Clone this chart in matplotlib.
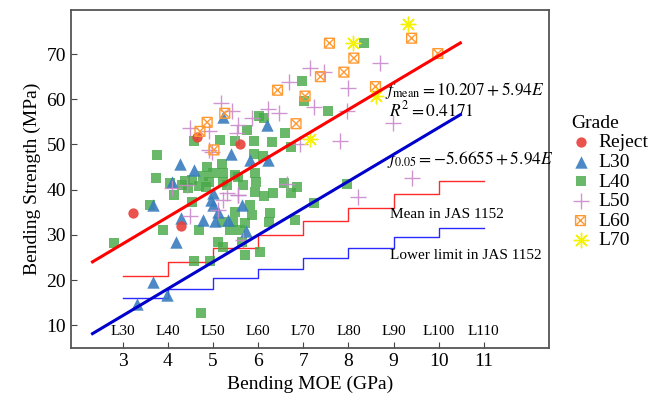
import numpy as np
import matplotlib.pyplot as plt
from matplotlib.path import Path

plt.rcParams['font.family'] = ['Liberation Serif', 'DejaVu Serif']
plt.rcParams['mathtext.fontset'] = 'stix'

# ----------------------------
# MOE (GPa) / bending strength (MPa) by grade
# ----------------------------
reject_moe = [3.23, 4.29, 4.64, 5.59]
reject_mor = [34.8, 32.0, 51.7, 50.1]

l30_moe = [3.31, 3.66, 3.98, 3.68, 4.09, 4.27, 4.29, 4.17, 4.58, 4.78, 4.95, 5.01,
           5.01, 5.12, 5.05, 5.22, 5.34, 5.40, 5.64, 5.73, 5.82, 6.20, 6.21]
l30_mor = [14.7, 19.6, 16.7, 36.6, 41.8, 45.6, 33.7, 28.5, 44.4, 33.3, 37.7, 39.3,
           36.6, 35.1, 33.0, 56.1, 33.3, 47.9, 36.6, 30.9, 46.5, 54.3, 46.5]

l40_moe = [2.81, 3.61, 3.73, 3.75, 3.89, 4.05, 4.14, 4.31, 4.38, 4.44, 4.53, 4.53,
           4.57, 4.57, 4.68, 4.68, 4.73, 4.77, 4.86, 4.90, 4.85, 4.94, 5.01, 5.12,
           5.16, 5.20, 5.20, 5.23, 5.23, 5.23, 5.31, 5.38, 5.45, 5.49, 5.49, 5.49,
           5.56, 5.60, 5.64, 5.67, 5.71, 5.71, 5.75, 5.82, 5.86, 5.90, 5.91, 5.93,
           5.93, 5.96, 6.01, 6.04, 6.10, 6.12, 6.14, 6.23, 6.27, 6.30, 6.34, 6.58,
           6.60, 6.73, 6.73, 6.82, 6.87, 6.97, 7.01, 7.23, 7.55, 7.97, 8.34]
l40_mor = [28.3, 36.6, 42.5, 47.7, 31.0, 41.4, 38.8, 41.0, 42.0, 40.3, 42.2, 37.3,
           24.3, 50.8, 40.8, 31.1, 12.8, 43.1, 45.1, 41.8, 40.5, 24.2, 43.6, 28.5,
           51.0, 45.7, 32.9, 43.6, 41.8, 27.4, 41.0, 31.1, 32.9, 50.8, 43.3, 35.1,
           42.9, 31.1, 28.5, 41.0, 25.6, 32.6, 53.1, 36.6, 34.4, 50.8, 48.0, 43.6,
           39.4, 41.6, 56.3, 26.3, 47.5, 38.5, 55.8, 32.9, 34.8, 50.6, 39.3, 41.5,
           52.6, 49.5, 39.2, 33.3, 40.7, 64.0, 59.6, 37.0, 57.5, 41.3, 72.5]

l50_moe = [4.10, 4.42, 4.49, 4.49, 4.90, 4.92, 4.97, 5.12, 5.18, 5.23, 5.31, 5.42,
           5.53, 5.55, 5.56, 5.56, 5.67, 5.86, 6.21, 6.47, 6.64, 6.69, 6.93, 7.15,
           7.23, 7.45, 7.82, 7.97, 7.99, 8.22, 8.69, 8.99, 9.41]
l50_mor = [40.3, 41.0, 53.7, 34.2, 53.0, 48.8, 48.4, 35.5, 59.2, 37.7, 39.2, 57.5,
           52.5, 54.2, 38.8, 38.8, 28.9, 55.8, 57.9, 56.9, 41.2, 63.8, 50.1, 67.0,
           58.2, 66.1, 50.8, 57.5, 62.5, 38.3, 68.0, 54.8, 42.5]

l60_moe = [4.71, 4.87, 5.02, 5.26, 6.43, 6.84, 7.04, 7.38, 7.58, 7.90, 8.12, 8.60,
           9.40, 9.98]
l60_mor = [52.9, 54.9, 48.8, 56.9, 62.0, 54.6, 60.7, 65.0, 72.4, 66.0, 69.1, 62.8,
           73.5, 70.1]

l70_moe = [7.14, 8.10, 8.62, 9.31]
l70_mor = [51.2, 72.5, 60.8, 76.7]

# regression lines
fit_moe = [2.33, 10.48]
mean_icpt, low_icpt, slope = 10.207, -5.6655, 5.94

# JAS 1152 grade boundaries and strengths
jas_moe = [3, 4, 5, 6, 7, 8, 9, 10, 11]
jas_mean = [21, 24, 27, 30, 33, 36, 39, 42]
jas_lower = [16, 18, 20.5, 22.5, 25, 27, 29.5, 31.5]
jas_grades = ['L30', 'L40', 'L50', 'L60', 'L70', 'L80', 'L90', 'L100', 'L110']

# boxed-x marker for L60
box_x = Path([(-1, -1), (1, -1), (1, 1), (-1, 1), (-1, -1),
              (-0.8, -0.8), (0.8, 0.8), (-0.8, 0.8), (0.8, -0.8)],
             [Path.MOVETO, Path.LINETO, Path.LINETO, Path.LINETO, Path.CLOSEPOLY,
              Path.MOVETO, Path.LINETO, Path.MOVETO, Path.LINETO])

fig = plt.figure(figsize=(6.5, 4.07), dpi=100)
ax = fig.add_axes([0.109, 0.145, 0.736, 0.83])

ax.scatter(reject_moe, reject_mor, s=55, marker='o', color='#e8403a', alpha=0.9,
           linewidths=0, label='Reject', zorder=4)
ax.scatter(l30_moe, l30_mor, s=80, marker='^', color='#3a7dbf', alpha=0.9,
           linewidths=0, label='L30', zorder=3)
ax.scatter(l40_moe, l40_mor, s=60, marker='s', color='#45a845', alpha=0.8,
           linewidths=0, label='L40', zorder=2)
ax.scatter(l50_moe, l50_mor, s=140, marker='+', color='#c98acb', alpha=0.9,
           linewidths=1.0, label='L50', zorder=4)
ax.scatter(l60_moe, l60_mor, s=50, marker=box_x, facecolors='none',
           edgecolors='#ff9a33', linewidths=1.0, label='L60', zorder=4)
ax.scatter(l70_moe, l70_mor, s=110, marker=(8, 2, 0), color='#f5f20a',
           linewidths=1.0, label='L70', zorder=4)

e = np.array(fit_moe)
ax.plot(e, mean_icpt + slope * e, color='#ff0000', lw=2.2, zorder=5)
ax.plot(e, low_icpt + slope * e, color='#0000cc', lw=2.2, zorder=5)

ax.step(jas_moe, jas_mean + [jas_mean[-1]], where='post', color='#ff2a2a', lw=1.0, zorder=1)
ax.step(jas_moe, jas_lower + [jas_lower[-1]], where='post', color='#2a2aff', lw=1.0, zorder=1)

for x, g in zip(jas_moe, jas_grades):
    ax.text(x, 8.6, g, ha='center', va='center', fontsize=11)

ax.text(8.82, 60.9, r'$f_{\mathrm{mean}} = 10.207 + 5.94E$', fontsize=12.5, va='baseline')
ax.text(8.9, 56.2, r'$R^2 = 0.4171$', fontsize=12.5, va='baseline')
ax.text(8.86, 45.6, r'$f_{0.05} = -5.6655 + 5.94E$', fontsize=12.5, va='baseline')
ax.text(8.93, 34.6, 'Mean in JAS 1152', fontsize=11, va='center')
ax.text(8.93, 25.5, 'Lower limit in JAS 1152', fontsize=11, va='center')

ax.set_xlim(1.85, 12.45)
ax.set_ylim(5, 79.7)
ax.set_xticks(jas_moe)
ax.set_yticks([10, 20, 30, 40, 50, 60, 70])
ax.tick_params(direction='in', labelsize=14, length=4, color='#444444')
ax.set_xlabel('Bending MOE (GPa)', fontsize=14)
ax.set_ylabel('Bending Strength (MPa)', fontsize=14)
for sp in ax.spines.values():
    sp.set_color('#555555')
    sp.set_linewidth(1.3)

leg = ax.legend(loc='upper left', bbox_to_anchor=(1.045, 0.69), frameon=False,
                title='Grade', fontsize=14, title_fontsize=14, handlelength=1.0,
                handletextpad=0.4, labelspacing=0.1, borderaxespad=0.0,
                borderpad=0.0)
leg._legend_box.align = 'left'

fig.savefig('out.png', dpi=100)
